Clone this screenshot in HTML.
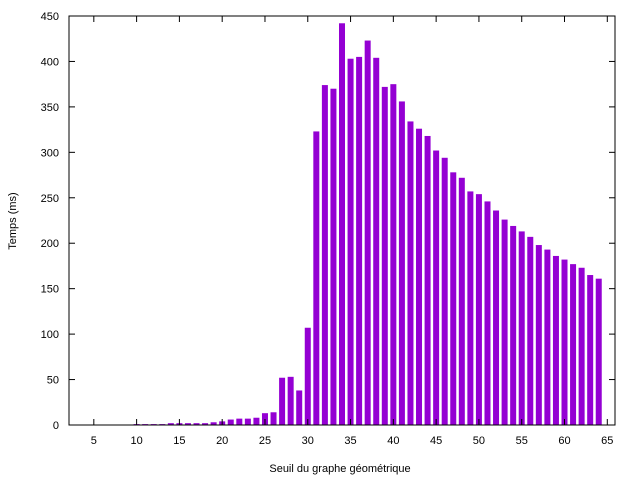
<!DOCTYPE html>
<html><head><meta charset="utf-8"><style>
body{margin:0;background:#fff}
svg text{font-family:"Liberation Sans",sans-serif;font-size:11px;fill:#000}
</style></head><body>
<svg id="c" width="640" height="480"></svg>
<script>
const categories=[10,11,12,13,14,15,16,17,18,19,20,21,22,23,24,25,26,27,28,29,30,31,32,33,34,35,36,37,38,39,40,41,42,43,44,45,46,47,48,49,50,51,52,53,54,55,56,57,58,59,60,61,62,63,64];
const values=[1,1,1,1,2,2,2,2,2,3,4,6,7,7,8,13,14,52,53,38,107,323,374,370,442,403,405,423,404,372,375,356,334,326,318,302,294,278,272,257,254,246,236,226,219,213,207,198,193,186,182,177,173,165,161];
const xTicks=[5,10,15,20,25,30,35,40,45,50,55,60,65];
const yTicks=[0,50,100,150,200,250,300,350,400,450];
const L=69,R=615,T=16,B=425,X0=2.1,X1=65.9,Y1=450;
const sx=v=>L+(v-X0)*(R-L)/(X1-X0);
const sy=v=>B-v*(B-T)/Y1;
const svg=document.getElementById('c');const NS='http://www.w3.org/2000/svg';
function mk(t,a,p){const e=document.createElementNS(NS,t);for(const k in a)e.setAttribute(k,a[k]);(p||svg).appendChild(e);return e;}
categories.forEach((c,i)=>{const r=mk('rect',{x:sx(c)-3,y:sy(values[i]),width:6,height:B-sy(values[i]),fill:'#9400d3'});

});
yTicks.forEach(v=>{const y=sy(v);mk('line',{x1:L,x2:L+6,y1:y,y2:y,stroke:'#000'});mk('line',{x1:R,x2:R-6,y1:y,y2:y,stroke:'#000'});
const t=mk('text',{x:L-10,y:y+4,'text-anchor':'end'});t.textContent=v;

});
xTicks.forEach(v=>{const x=sx(v);mk('line',{x1:x,x2:x,y1:B,y2:B-6,stroke:'#000'});mk('line',{x1:x,x2:x,y1:T,y2:T+6,stroke:'#000'});
const t=mk('text',{x:x,y:B+19,'text-anchor':'middle'});t.textContent=v;

});
const f=mk('rect',{x:L,y:T,width:R-L,height:B-T,fill:'none',stroke:'#000'});


const xt=mk('text',{x:340,y:472,'text-anchor':'middle'});xt.textContent='Seuil du graphe géométrique';


const yt=mk('text',{x:16,y:221,'text-anchor':'middle',transform:'rotate(-90 16 221)'});yt.textContent='Temps (ms)';


</script>
</body></html>
